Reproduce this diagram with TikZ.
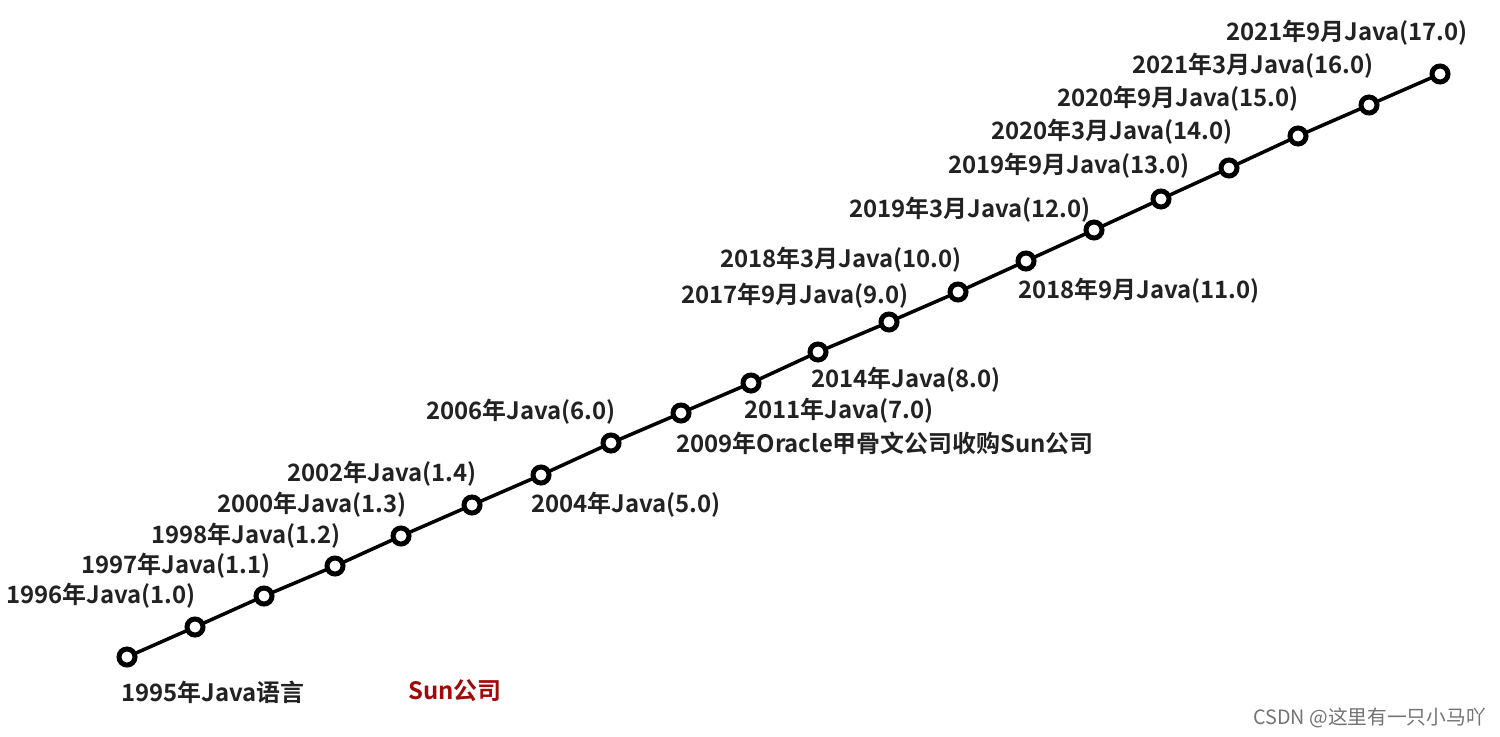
\documentclass[tikz,border=0pt]{standalone}
\usepackage{fontspec}
\setmainfont{Noto Sans CJK SC}
\newfontfamily\cjkbold{Noto Sans CJK SC Bold}
\newfontfamily\cjkreg{Noto Sans CJK SC}
\definecolor{txt}{HTML}{222222}
\definecolor{sunred}{HTML}{A00A0A}
\tikzset{
  milestone/.style={circle, draw=black, fill=white, line width=5bp, minimum size=16bp, inner sep=0pt},
  lbl/.style={font=\cjkbold\fontsize{24}{26}\selectfont, text=txt, inner sep=0pt},
  axisline/.style={line width=3.5bp, black},
  mark2/.style={font=\cjkreg\fontsize{19.8}{21}\selectfont, text=black!55, inner sep=0pt}
}
\begin{document}
\begin{tikzpicture}[x=1bp,y=-1bp]
\useasboundingbox (0,0) rectangle (1500,737);
\fill[white] (0,0) rectangle (1500,737);
% points
\coordinate (c1) at (127,657);
\coordinate (c2) at (195,627);
\coordinate (c3) at (264,596);
\coordinate (c4) at (335,566);
\coordinate (c5) at (401,536);
\coordinate (c6) at (472,505);
\coordinate (c7) at (541,475);
\coordinate (c8) at (611,443);
\coordinate (c9) at (681,413);
\coordinate (c10) at (751,383);
\coordinate (c11) at (818,352);
\coordinate (c12) at (889,322);
\coordinate (c13) at (958,292);
\coordinate (c14) at (1026,261);
\coordinate (c15) at (1094,230);
\coordinate (c16) at (1161,199);
\coordinate (c17) at (1229,168);
\coordinate (c18) at (1298,136);
\coordinate (c19) at (1369,105);
\coordinate (c20) at (1440,74);
\draw[axisline] (c1) -- (c2) -- (c3) -- (c4) -- (c5) -- (c6) -- (c7) -- (c8) -- (c9) -- (c10)
  -- (c11) -- (c12) -- (c13) -- (c14) -- (c15) -- (c16) -- (c17) -- (c18) -- (c19) -- (c20);
\foreach \i in {1,...,20} {\node[milestone] (p\i) at (c\i) {};}
% labels
\node[lbl] (l1) at (213,692) {1995年Java语言};
\node[lbl, text=sunred] (lsun) at (455,691) {Sun公司};
\node[lbl] (l2) at (101,596) {1996年Java(1.0)};
\node[lbl] (l3) at (176,566) {1997年Java(1.1)};
\node[lbl] (l4) at (246,536) {1998年Java(1.2)};
\node[lbl] (l5) at (312,505) {2000年Java(1.3)};
\node[lbl] (l6) at (382,474) {2002年Java(1.4)};
\node[lbl] (l7) at (626,505) {2004年Java(5.0)};
\node[lbl] (l8) at (521,412) {2006年Java(6.0)};
\node[lbl] (l9) at (885,443) {2009年Oracle甲骨文公司收购Sun公司};
\node[lbl] (l10) at (839,411) {2011年Java(7.0)};
\node[lbl] (l11) at (906,380) {2014年Java(8.0)};
\node[lbl] (l12) at (795,296) {2017年9月Java(9.0)};
\node[lbl] (l13) at (841,260) {2018年3月Java(10.0)};
\node[lbl] (l14) at (1139,291) {2018年9月Java(11.0)};
\node[lbl] (l15) at (970,210) {2019年3月Java(12.0)};
\node[lbl] (l16) at (1069,166) {2019年9月Java(13.0)};
\node[lbl] (l17) at (1112,132) {2020年3月Java(14.0)};
\node[lbl] (l18) at (1178,99) {2020年9月Java(15.0)};
\node[lbl] (l19) at (1253,66) {2021年3月Java(16.0)};
\node[lbl] (l20) at (1347,33) {2021年9月Java(17.0)};
% watermark
\node[mark2, anchor=east] (wm) at (1486,718) {CSDN @这里有一只小马吖};
\end{tikzpicture}
\end{document}
